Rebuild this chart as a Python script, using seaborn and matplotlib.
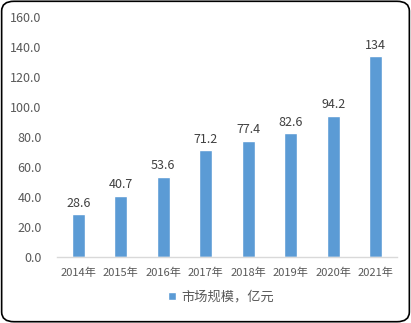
import matplotlib
matplotlib.use("Agg")
import matplotlib.pyplot as plt
from matplotlib.patches import FancyBboxPatch
import seaborn as sns
import pandas as pd

years = ["2014年", "2015年", "2016年", "2017年", "2018年", "2019年", "2020年", "2021年"]
market_size = [28.6, 40.7, 53.6, 71.2, 77.4, 82.6, 94.2, 134]
value_labels = ["28.6", "40.7", "53.6", "71.2", "77.4", "82.6", "94.2", "134"]
series_name = "市场规模，亿元"
y_ticks = [0, 20, 40, 60, 80, 100, 120, 140, 160]

sns.set_theme(style="white")
plt.rcParams["font.family"] = ["Noto Sans CJK SC", "DejaVu Sans"]

df = pd.DataFrame({"year": years, "value": market_size, "series": series_name})

fig = plt.figure(figsize=(4.11, 3.23), dpi=100)
fig.patch.set_facecolor("white")
ax = fig.add_axes([0.1387, 0.2043, 0.827, 0.743])

bar_color = "#5B9BD5"
sns.barplot(data=df, x="year", y="value", hue="series", palette=[bar_color],
            width=0.31, ax=ax, legend=True, saturation=1)

for i, (v, lab) in enumerate(zip(market_size, value_labels)):
    ax.text(i, v + 3, lab, ha="center", va="bottom", fontsize=9, color="#404040")

ax.set_ylim(0, 160)
ax.set_xlim(-0.5, 7.5)
ax.set_yticks(y_ticks)
ax.set_yticklabels([f"{t:.1f}" for t in y_ticks])
ax.tick_params(axis="y", labelsize=9, colors="#595959", length=0, pad=11)
ax.tick_params(axis="x", labelsize=8, colors="#595959", length=0, pad=8)
ax.set_xlabel("")
ax.set_ylabel("")
for s in ["top", "right", "left"]:
    ax.spines[s].set_visible(False)
ax.spines["bottom"].set_color("#D9D9D9")
ax.spines["bottom"].set_linewidth(1)

handles, labels = ax.get_legend_handles_labels()
ax.get_legend().remove()
leg = fig.legend(handles, labels, loc="center", bbox_to_anchor=(0.538, 0.08),
                 frameon=False, fontsize=9.5, handlelength=0.55, handleheight=0.55,
                 handletextpad=0.4)
for t in leg.get_texts():
    t.set_color("#595959")

border = FancyBboxPatch((0.004, 0.004), 0.992, 0.992, boxstyle="round,pad=0,rounding_size=0.03",
                        transform=fig.transFigure, facecolor="none", edgecolor="black",
                        linewidth=1.2, zorder=10)
fig.patches.append(border)

fig.savefig("out.png", dpi=100)
